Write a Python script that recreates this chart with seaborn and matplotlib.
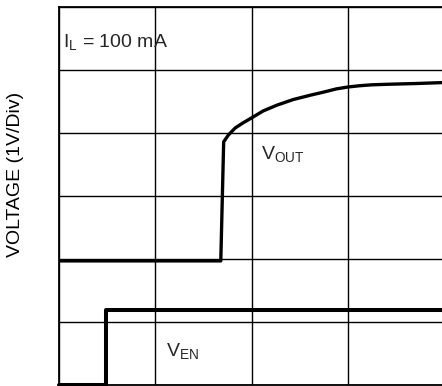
"""
Oscillogramme de demarrage : tension de sortie et signal d'activation (I_L = 100 mA).
"""

import matplotlib
matplotlib.use("Agg")
import matplotlib.pyplot as plt
import seaborn as sns
import pandas as pd

temps_vout = [0.0, 1.68, 1.71, 1.76, 1.83, 1.91, 2.0, 2.12, 2.26, 2.43,
              2.61, 2.75, 2.88, 3.0, 3.12, 3.25, 3.45, 3.70, 3.98]
tension_vout = [1.97, 1.97, 3.86, 3.97, 4.08, 4.16, 4.24, 4.35, 4.44, 4.53,
                4.60, 4.65, 4.70, 4.73, 4.75, 4.765, 4.775, 4.785, 4.80]

temps_ven = [0.0, 0.49, 0.49, 4.1]
tension_ven = [0.0, 0.0, 1.19, 1.19]

N_DIV_X = 4
N_DIV_Y = 6


def generer_graphique():
    sns.set_theme(style="white")
    plt.rcParams["font.family"] = ["Liberation Sans", "DejaVu Sans"]
    plt.rcParams["mathtext.default"] = "regular"

    fig = plt.figure(figsize=(4.42, 3.86), dpi=100)
    ax = fig.add_axes([59 / 442, 1 / 386, 385.2 / 442, 378 / 386])

    df_vout = pd.DataFrame({"t": temps_vout, "v": tension_vout})
    df_ven = pd.DataFrame({"t": temps_ven, "v": tension_ven})

    sns.lineplot(data=df_vout, x="t", y="v", ax=ax, color="black",
                 linewidth=2.4, estimator=None, sort=False)
    sns.lineplot(data=df_ven, x="t", y="v", ax=ax, color="black",
                 linewidth=2.9, estimator=None, sort=False, clip_on=False)

    ax.set_xlim(0, N_DIV_X)
    ax.set_ylim(0, N_DIV_Y)
    ax.set_xticks(range(N_DIV_X + 1))
    ax.set_yticks(range(N_DIV_Y + 1))
    ax.set_xticklabels([])
    ax.set_yticklabels([])
    ax.tick_params(length=0)
    ax.grid(True, color="black", linewidth=1.0)
    ax.set_axisbelow(True)
    for cote in ["left", "top", "bottom"]:
        ax.spines[cote].set_color("black")
        ax.spines[cote].set_linewidth(1.3)
    ax.spines["right"].set_visible(False)

    ax.set_xlabel("")
    ax.set_ylabel("VOLTAGE (1V/Div)", fontsize=14, color="black", va="center")
    ax.yaxis.set_label_coords(-0.114, 0.558)

    ax.text(0.04, 5.37, "$I_L$ = 100 mA", fontsize=14, va="baseline")
    ax.text(2.10, 3.59, "$V_{OUT}$", fontsize=14, va="baseline")
    ax.text(1.11, 0.46, "$V_{EN}$", fontsize=14, va="baseline")

    fig.savefig("out.png", dpi=100)
    plt.close(fig)


if __name__ == "__main__":
    generer_graphique()
